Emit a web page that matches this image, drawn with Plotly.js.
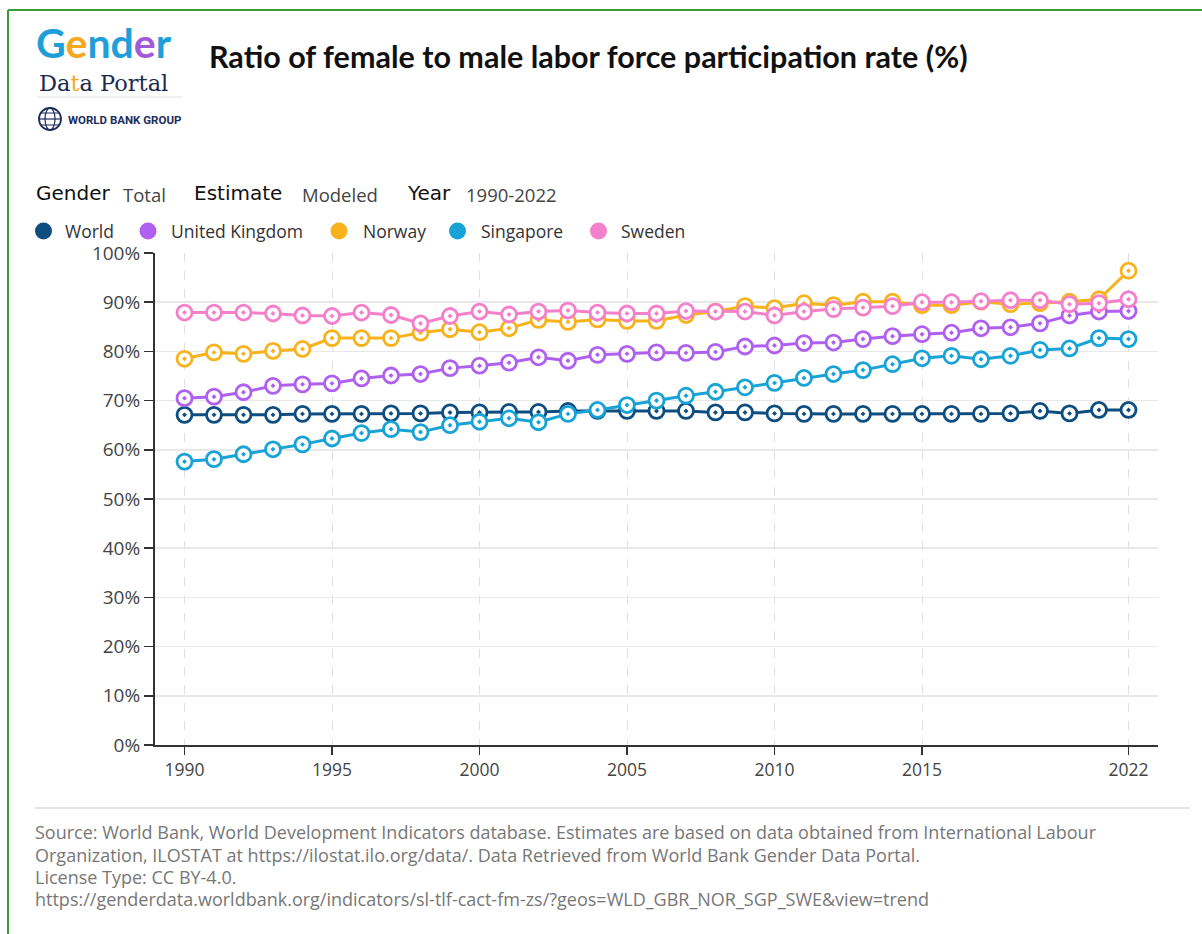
<!DOCTYPE html>
<html>
<head>
<meta charset="utf-8">
<script src="https://cdn.plot.ly/plotly-3.0.1.min.js"></script>
<style>
html,body{margin:0;padding:0;background:#fff;}
#chart{width:1202px;height:934px;}
</style>
</head>
<body>
<div id="chart"></div>
<script>
// ---------- DATA ----------
var years = [1990,1991,1992,1993,1994,1995,1996,1997,1998,1999,2000,2001,2002,2003,2004,2005,2006,2007,2008,2009,2010,2011,2012,2013,2014,2015,2016,2017,2018,2019,2020,2021,2022];
var seriesNames = ["World","United Kingdom","Norway","Singapore","Sweden"];
var world = [67.1,67.1,67.1,67.1,67.3,67.3,67.3,67.4,67.4,67.6,67.6,67.7,67.7,67.9,67.9,67.9,67.9,67.9,67.6,67.6,67.4,67.3,67.3,67.3,67.3,67.3,67.3,67.3,67.4,67.9,67.4,68.1,68.1];
var unitedKingdom = [70.5,70.8,71.7,73.0,73.3,73.5,74.5,75.1,75.4,76.6,77.1,77.7,78.8,78.1,79.3,79.5,79.8,79.7,79.9,81.0,81.2,81.7,81.8,82.5,83.1,83.5,83.8,84.7,84.9,85.7,87.3,88.1,88.2];
var norway = [78.5,79.8,79.5,80.1,80.5,82.7,82.7,82.7,83.8,84.5,83.9,84.7,86.4,86.0,86.5,86.2,86.2,87.4,88.1,89.2,88.8,89.8,89.4,90.1,90.1,89.4,89.4,90.1,89.6,89.8,90.1,90.6,96.4];
var singapore = [57.6,58.1,59.1,60.1,61.1,62.3,63.4,64.2,63.6,65.0,65.7,66.4,65.6,67.3,68.1,69.1,70.0,71.0,71.8,72.7,73.6,74.6,75.4,76.2,77.4,78.6,79.1,78.4,79.1,80.3,80.6,82.7,82.5];
var sweden = [87.9,87.9,87.9,87.7,87.3,87.2,87.9,87.4,85.7,87.2,88.1,87.5,88.1,88.3,87.9,87.7,87.7,88.2,88.1,88.1,87.3,88.1,88.6,88.9,89.2,90.0,90.0,90.2,90.4,90.4,89.6,89.8,90.6];
var xTickVals = [1990,1995,2000,2005,2010,2015,2022];
var xTickText = ["1990","1995","2000","2005","2010","2015","2022"];
var yTickVals = [0,10,20,30,40,50,60,70,80,90,100];
var yTickText = ["0%","10%","20%","30%","40%","50%","60%","70%","80%","90%","100%"];
var titleText = "Ratio of female to male labor force participation rate (%)";
var filterLabels = ["Gender","Estimate","Year"];
var filterValues = ["Total","Modeled","1990-2022"];
var sourceLines = [
  "Source: World Bank, World Development Indicators database. Estimates are based on data obtained from International Labour",
  "Organization, ILOSTAT at https://ilostat.ilo.org/data/. Data Retrieved from World Bank Gender Data Portal.",
  "License Type: CC BY-4.0.",
  "https://genderdata.worldbank.org/indicators/sl-tlf-cact-fm-zs/?geos=WLD_GBR_NOR_SGP_SWE&view=trend"
];

// ---------- STYLE ----------
var seriesValues = [world, unitedKingdom, norway, singapore, sweden];
var colors = ["#0e4d80","#b060f0","#f7b21c","#17a3d6","#f47fcb"];

var W = 1202, H = 934;
var M = {l:155, r:44, t:253, b:189};
var PW = W - M.l - M.r, PH = H - M.t - M.b;
function px(x){ return (x - M.l) / PW; }
function py(y){ return (H - M.b - y) / PH; }

var traces = seriesValues.map(function(vals, i){
  return {
    type:"scatter", mode:"lines+markers", name:seriesNames[i],
    x:years, y:vals, showlegend:false,
    line:{color:colors[i], width:3},
    marker:{symbol:"circle-dot", size:15, color:"#ffffff", line:{color:colors[i], width:2.8}},
    cliponaxis:false,
    hovertemplate:"%{x}: %{y:.1f}%<extra>"+seriesNames[i]+"</extra>"
  };
});

var ann = [];
var shapes = [];
function txt(x, y, t, opts){
  opts = opts || {};
  ann.push({
    xref:"paper", yref:"paper", x:px(x), y:py(y), text:t, showarrow:false,
    xanchor:opts.xa || "left", yanchor:opts.ya || "middle",
    align:opts.align || "left", borderpad:0,
    font:{family:opts.family || "Open Sans", size:opts.size || 16, color:opts.color || "#333"}
  });
}
function line(x0, y0, x1, y1, c, w){
  shapes.push({type:"line", xref:"paper", yref:"paper", x0:px(x0), x1:px(x1), y0:py(y0), y1:py(y1), line:{color:c, width:w}});
}

// title
txt(208, 56, "<b>"+titleText+"</b>", {family:"Lato", size:30.5, color:"#111"});

// logo
txt(35, 68, '<b><span style="color:#1f9fda">G</span><span style="color:#f5a81e">e</span><span style="color:#1f9fda">nd</span><span style="color:#a25adb">e</span><span style="color:#1f9fda">r</span></b>', {family:"Lato", size:41, ya:"bottom"});
txt(38, 68.5, 'Da<span style="color:#f5a81e">t</span>a Portal', {family:"DejaVu Serif", size:22.5, color:"#1c2a4e", ya:"top"});
line(37, 97, 182, 97, "#e3e3e3", 1);
// globe
shapes.push({type:"circle", xref:"paper", yref:"paper", x0:px(39), x1:px(61), y0:py(108), y1:py(130), line:{color:"#1c2d5a", width:1.8}});
shapes.push({type:"circle", xref:"paper", yref:"paper", x0:px(45), x1:px(55), y0:py(108), y1:py(130), line:{color:"#1c2d5a", width:1.2}});
line(39, 119, 61, 119, "#1c2d5a", 1.2);
line(41, 113, 59, 113, "#1c2d5a", 1);
line(41, 125, 59, 125, "#1c2d5a", 1);
txt(67, 120, "<b>WORLD BANK GROUP</b>", {family:"Roboto", size:11.5, color:"#1c2d5a"});

// filter row
var fLabX = [35, 193, 406];
var fValX = [122, 301, 465];
filterLabels.forEach(function(l, i){
  txt(fLabX[i], 193, l, {family:"DejaVu Sans", size:20, color:"#111"});
  txt(fValX[i], 194, filterValues[i], {size:18.5, color:"#444"});
});

// custom legend
var legX = [43.5, 148, 339, 457.5, 598.5];
var legTX = [64, 169.5, 361.5, 480, 619.5];
seriesNames.forEach(function(n, i){
  shapes.push({type:"circle", xref:"paper", yref:"paper", x0:px(legX[i]-8.5), x1:px(legX[i]+8.5), y0:py(222.5), y1:py(239.5), fillcolor:colors[i], line:{width:0}});
  txt(legTX[i], 231, n, {size:17.5, color:"#333"});
});

// footer
line(35, 808, 1190, 808, "#dddddd", 1.5);
var fy = [832, 855, 877, 899];
sourceLines.forEach(function(s, i){ txt(34, fy[i], s, {size:18, color:"#777"}); });

// green frame (screenshot border)
line(8, 10, 1202, 10, "#3a9b3a", 2);
line(8, 10, 8, 934, "#3a9b3a", 2);

var layout = {
  width:W, height:H, margin:M,
  paper_bgcolor:"#ffffff", plot_bgcolor:"#ffffff",
  showlegend:false,
  xaxis:{
    range:[1989, 2023], tickvals:xTickVals, ticktext:xTickText,
    showgrid:true, gridcolor:"#e0e0e0", griddash:"dash", gridwidth:1,
    showline:true, linecolor:"#333", linewidth:2,
    ticks:"outside", ticklen:8, tickwidth:1.5, tickcolor:"#333",
    tickfont:{family:"Open Sans", size:17.5, color:"#444"},
    zeroline:false, fixedrange:true
  },
  yaxis:{
    range:[0, 100], tickvals:yTickVals, ticktext:yTickText,
    showgrid:true, gridcolor:"#e8e8e8", gridwidth:1.5,
    showline:true, linecolor:"#333", linewidth:2,
    ticks:"outside", ticklen:9, tickwidth:1.5, tickcolor:"#333",
    tickfont:{family:"Open Sans", size:19, color:"#444"},
    zeroline:false, fixedrange:true
  },
  annotations:ann, shapes:shapes
};

Plotly.newPlot("chart", traces, layout, {displayModeBar:false, staticPlot:true});
</script>
</body>
</html>
